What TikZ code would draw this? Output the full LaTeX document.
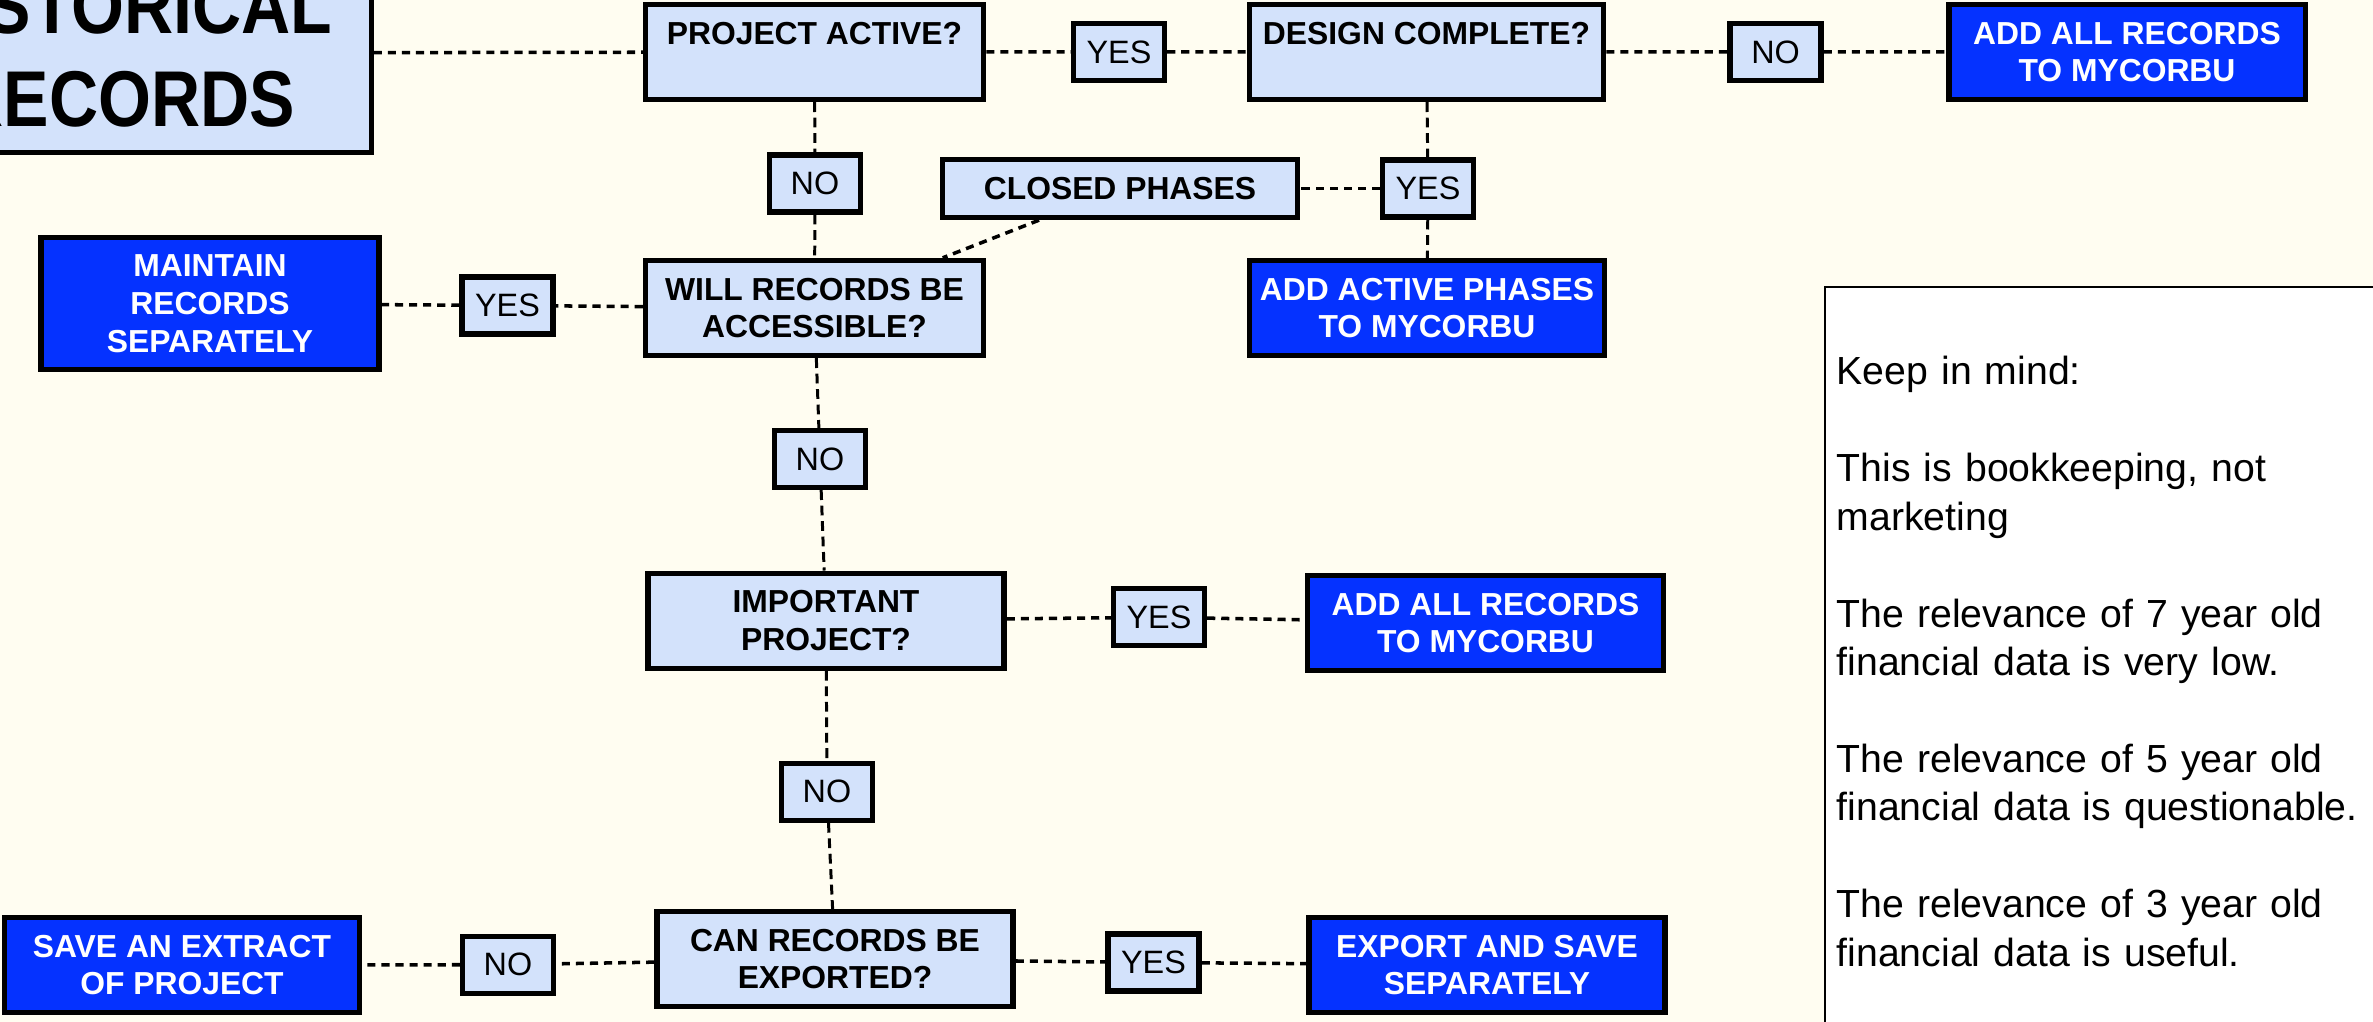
\documentclass[tikz,border=0pt]{standalone}
\usepackage{fontspec}
\setmainfont{Liberation Sans}
\newfontfamily\headfamily[FakeStretch=0.86]{Liberation Sans}
\usepackage{xcolor}
\usepackage{tikz}
\usetikzlibrary{positioning, backgrounds}

\definecolor{papercream}{RGB}{255,253,241}
\definecolor{paleblue}{RGB}{211,226,251}
\definecolor{deepblue}{RGB}{5,50,255}

\newcommand{\boxtextfont}{\fontsize{9.05}{10.75}\selectfont\bfseries}
\newcommand{\tagtextfont}{\fontsize{9.2}{10.75}\selectfont}
\newcommand{\notetextfont}{\fontsize{11.15}{13.77}\selectfont}
\newcommand{\headtextfont}{\headfamily\bfseries\fontsize{22.5}{26.5}\selectfont}

\tikzset{
  qbox/.style={draw=black, line width=1.5pt, fill=paleblue, font=\boxtextfont, align=center,
    inner sep=0pt, minimum width=3.56cm, minimum height=0.95cm},
  actbox/.style={qbox, fill=deepblue, text=white},
  tagbox/.style={draw=black, line width=1.5pt, fill=paleblue, font=\tagtextfont,
    inner sep=0pt, minimum width=0.91cm, minimum height=0.57cm},
  hlink/.style={line width=1pt, dash pattern=on 2.3pt off 1.7pt},
  vlink/.style={line width=0.85pt, dash pattern=on 2.8pt off 1.6pt},
}

\begin{document}
\begin{tikzpicture}[x=0.01cm, y=-0.01cm]
    \useasboundingbox (0,0) rectangle (2373,1022);
    \clip (0,0) rectangle (2373,1022);

    % Heading
    \node[qbox, font=\headtextfont, minimum width=4.92cm, minimum height=1.99cm] (title) at (125,53) {HISTORICAL\\RECORDS};

    % Top row
    \node[qbox, minimum width=3.38cm] (active) at (814.5,52) {PROJECT ACTIVE?\\\mbox{}};
    \node[tagbox] (yesA) at (1119,52) {YES};
    \node[qbox, minimum width=3.54cm] (design) at (1426.5,52) {DESIGN COMPLETE?\\\mbox{}};
    \node[tagbox] (noA) at (1775.5,52) {NO};
    \node[actbox] (addtop) at (2127,52) {ADD ALL RECORDS\\TO MYCORBU};

    % Second row
    \node[tagbox] (noB) at (815,183.5) {NO};
    \node[qbox, minimum width=3.55cm, minimum height=0.58cm] (closed) at (1120,188.5) {CLOSED PHASES};
    \node[tagbox] (yesB) at (1428,188.5) {YES};

    % Accessibility row
    \node[actbox, minimum width=3.38cm, minimum height=1.32cm] (maintain) at (210,303.5) {MAINTAIN\\RECORDS\\SEPARATELY};
    \node[tagbox] (yesC) at (507.5,305.5) {YES};
    \node[qbox, minimum width=3.38cm] (access) at (814.5,308) {WILL RECORDS BE\\ACCESSIBLE?};
    \node[actbox, minimum width=3.55cm] (addphase) at (1427,308) {ADD ACTIVE PHASES\\TO MYCORBU};
    \node[tagbox] (noC) at (820,459) {NO};

    % Importance row
    \node[qbox] (important) at (826,620.7) {IMPORTANT\\PROJECT?};
    \node[tagbox] (yesD) at (1159,617.3) {YES};
    \node[actbox] (addmid) at (1485.5,623) {ADD ALL RECORDS\\TO MYCORBU};
    \node[tagbox] (noD) at (827,791.7) {NO};

    % Export row
    \node[actbox, minimum width=3.55cm] (extract) at (182,965) {SAVE AN EXTRACT\\OF PROJECT};
    \node[tagbox] (noE) at (508,964.7) {NO};
    \node[qbox] (exportq) at (835,959) {CAN RECORDS BE\\EXPORTED?};
    \node[tagbox] (yesE) at (1153.5,962.5) {YES};
    \node[actbox] (exportsave) at (1487,965) {EXPORT AND SAVE\\SEPARATELY};

    % Side note
    \draw[line width=0.5pt, fill=white] (1825,287) rectangle (2420,1080);
    \node[font=\notetextfont, text width=6cm, align=left, inner sep=0pt, anchor=base west] (note) at (1836,385)
      {Keep in mind:\\[13.77pt]
       This is bookkeeping, not\\ marketing\\[13.77pt]
       The relevance of 7 year old\\ financial data is very low.\\[13.77pt]
       The relevance of 5 year old\\ financial data is questionable.\\[13.77pt]
       The relevance of 3 year old\\ financial data is useful.};

    % Connectors
    \begin{scope}[on background layer]
      \fill[papercream] (0,0) rectangle (2373,1022);
      \draw[hlink] (title) -- (active) -- (yesA) -- (design) -- (noA) -- (addtop);
      \draw[vlink] (active) -- (noB) -- (access);
      \draw[vlink] (design) -- (yesB) -- (addphase);
      \draw[hlink] (yesB) -- (closed);
      \draw[hlink] (closed) -- (access);
      \draw[hlink] (access) -- (yesC) -- (maintain);
      \draw[vlink] (access) -- (noC) -- (important);
      \draw[hlink] (important) -- (yesD) -- (addmid);
      \draw[vlink] (important) -- (noD) -- (exportq);
      \draw[hlink] (exportq) -- (yesE) -- (exportsave);
      \draw[hlink] (exportq) -- (noE) -- (extract);
    \end{scope}
\end{tikzpicture}
\end{document}
